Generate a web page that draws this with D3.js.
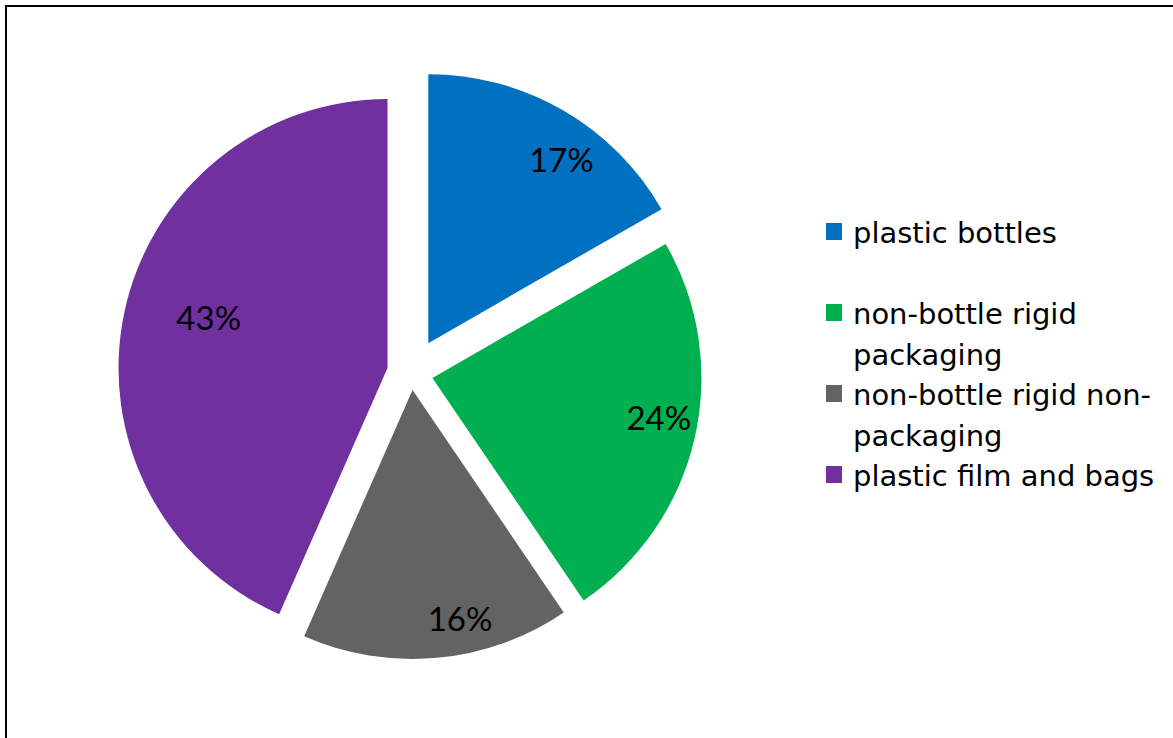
<!DOCTYPE html>
<html>
<head>
<meta charset="utf-8">
<script src="https://cdn.jsdelivr.net/npm/d3@7"></script>
<style>
  body { margin: 0; background: #fff; }
  text { font-family: Lato, "Open Sans", sans-serif; }
  .legend text { font-family: "DejaVu Sans", sans-serif; }
</style>
</head>
<body>
<div id="chart"></div>
<script>
const categories = ["plastic bottles", "non-bottle rigid packaging", "non-bottle rigid non-packaging", "plastic film and bags"];
const legendLines = [["plastic bottles"], ["non-bottle rigid", "packaging"], ["non-bottle rigid non-", "packaging"], ["plastic film and bags"]];
const shares = [0.167, 0.238, 0.161, 0.434];
const colors = ["#0070C0", "#00B050", "#636363", "#7030A0"];

const width = 1173, height = 738;
const cx = 411, cy = 373, r = 269;

// per-slice pull-out and label nudges (degrees from slice middle, fraction of radius)
const explode = [34.5, 22, 17, 24];
const labelShift = [6, -2.8, -6.5, 3.7];
const labelDist = [0.84, 0.855, 0.87, 0.69];

const svg = d3.select("#chart")
  .append("svg")
  .attr("width", width)
  .attr("height", height);

// outer frame (cropped at right/bottom)
svg.append("rect")
  .attr("x", 6).attr("y", 6)
  .attr("width", width + 20).attr("height", height + 20)
  .attr("fill", "none")
  .attr("stroke", "#000")
  .attr("stroke-width", 2);

const data = categories.map((c, i) => ({ name: c, value: shares[i], i }));

const pie = d3.pie().sort(null).value(d => d.value);
const arc = d3.arc().innerRadius(0).outerRadius(r);
const arcs = pie(data);

const g = svg.append("g").attr("transform", `translate(${cx},${cy})`);

const slice = g.selectAll(".slice")
  .data(arcs)
  .enter()
  .append("g")
  .attr("class", "slice")
  .attr("transform", d => {
    const mid = (d.startAngle + d.endAngle) / 2;
    const e = explode[d.data.i];
    return `translate(${Math.sin(mid) * e},${-Math.cos(mid) * e})`;
  });

slice.append("path")
  .attr("d", arc)
  .attr("fill", d => colors[d.data.i]);

const labelAngle = d => (d.startAngle + d.endAngle) / 2 + labelShift[d.data.i] * Math.PI / 180;

slice.append("text")
  .attr("x", d => Math.sin(labelAngle(d)) * r * labelDist[d.data.i])
  .attr("y", d => -Math.cos(labelAngle(d)) * r * labelDist[d.data.i])
  .attr("dy", "0.36em")
  .attr("text-anchor", "middle")
  .attr("fill", "#000")
  .style("font-size", "33px")
  .text(d => d3.format(".0%")(d.data.value));

// legend
const legend = svg.append("g")
  .attr("class", "legend")
  .attr("transform", "translate(826,243)");

const item = legend.selectAll(".item")
  .data(data)
  .enter()
  .append("g")
  .attr("class", "item")
  .attr("transform", (d, i) => `translate(0,${i * 81})`);

item.append("rect")
  .attr("x", 0).attr("y", -20)
  .attr("width", 16).attr("height", 17)
  .attr("fill", d => colors[d.i]);

item.append("text")
  .attr("fill", "#000")
  .style("font-size", "29px")
  .selectAll("tspan")
  .data(d => legendLines[d.i])
  .enter()
  .append("tspan")
  .attr("x", 27)
  .attr("y", (t, j) => j * 41)
  .text(t => t);
</script>
</body>
</html>
